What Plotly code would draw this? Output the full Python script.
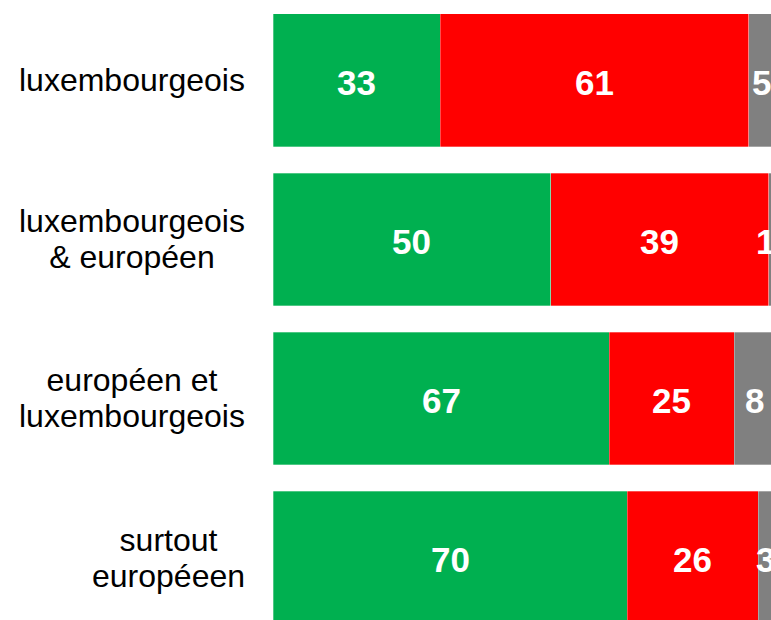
import plotly.graph_objects as go

categories = [["luxembourgeois"], ["luxembourgeois", "& européen"],
              ["européen et", "luxembourgeois"], ["surtout", "européeen"]]
green_vals = [33, 54.9, 66.4, 70]
red_vals = [61, 43.1, 24.7, 25.9]
grey_vals = [5, 2, 8, 3]
green_labels = ["33", "50", "67", "70"]
red_labels = ["61", "39", "25", "26"]
grey_labels = ["5", "11", "8", "3"]

XMAX = 98.4
ypos = list(range(len(categories)))
FONT = "Liberation Sans, Arial, sans-serif"

fig = go.Figure()
for vals, color in [(green_vals, "#00B050"), (red_vals, "#FF0000"), (grey_vals, "#808080")]:
    fig.add_trace(go.Bar(
        y=ypos, x=vals, orientation="h", width=0.836,
        marker=dict(color=color, line=dict(color="rgba(255,255,255,0.6)", width=0.5)),
        hoverinfo="skip", showlegend=False,
    ))

# segment labels at the middle of each stacked segment (paper x so that labels
# running past the right edge, as in the reference, are still drawn and cut)
starts = [0] * len(categories)
for vals, labels in [(green_vals, green_labels), (red_vals, red_labels), (grey_vals, grey_labels)]:
    for i, (s, v, lab) in enumerate(zip(starts, vals, labels)):
        fig.add_annotation(
            x=(s + v / 2) / XMAX, y=i, xref="paper", yref="y", text=lab, showarrow=False,
            xanchor="center", yanchor="middle", yshift=-2,
            font=dict(family=FONT, size=35, color="white", weight="bold"),
        )
    starts = [s + v for s, v in zip(starts, vals)]

# category labels: lines centred within a block right-aligned next to the bars
HIDE = "<span style='color:rgba(0,0,0,0)'>{}</span>"
for i, lines in enumerate(categories):
    n = len(lines)
    for k in range(n):
        parts = [lines[j] if j == k else HIDE.format(lines[j]) for j in range(n)]
        shift = 0 if n == 1 else (3 if k == n - 1 else -3)
        fig.add_annotation(
            x=0, xref="paper", y=i, yref="y", text="<br>".join(parts), showarrow=False,
            xanchor="right", yanchor="middle", align="center", xshift=-26, yshift=shift,
            font=dict(family=FONT, size=32, color="black"),
        )

fig.update_layout(
    barmode="stack", width=771, height=620,
    margin=dict(l=273, r=0, t=0, b=0),
    plot_bgcolor="white", paper_bgcolor="white",
    xaxis=dict(range=[0, XMAX], visible=False, fixedrange=True),
    yaxis=dict(range=[3.393, -0.506], visible=False, fixedrange=True),
)
fig.write_html("out.html", config={"displayModeBar": False},
               post_script="document.body.style.margin='0';")
